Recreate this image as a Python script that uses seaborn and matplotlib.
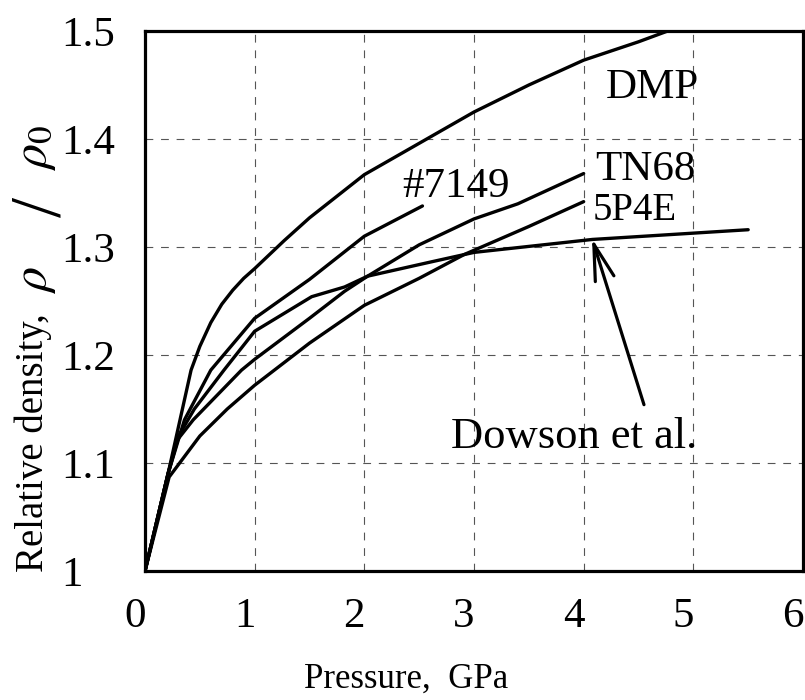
import matplotlib
matplotlib.use("Agg")
import matplotlib.pyplot as plt
import pandas as pd
import seaborn as sns
from matplotlib.patches import FancyArrowPatch
from matplotlib.transforms import ScaledTranslation

# ---- data ----
dmp_p = [0.0, 0.21, 0.42, 0.50, 0.60, 0.70, 0.80, 0.90, 1.0, 1.27, 1.5, 2.0, 2.5, 3.0, 3.5, 4.0, 4.5, 4.82]
dmp_r = [1.0, 1.09, 1.186, 1.208, 1.230, 1.247, 1.260, 1.271, 1.280, 1.306, 1.327, 1.367, 1.396, 1.425, 1.450, 1.473, 1.490, 1.502]

s7149_p = [0.0, 0.21, 0.36, 0.60, 1.0, 1.5, 2.0, 2.53]
s7149_r = [1.0, 1.09, 1.14, 1.186, 1.234, 1.270, 1.310, 1.338]

tn68_p = [0.0, 0.21, 0.30, 0.44, 0.88, 1.0, 1.5, 1.82, 2.03, 2.5, 3.0, 3.4, 4.0]
tn68_r = [1.0, 1.09, 1.122, 1.14, 1.186, 1.196, 1.234, 1.259, 1.273, 1.302, 1.326, 1.340, 1.368]

dowson_p = [0.0, 0.21, 0.30, 0.45, 0.72, 1.0, 1.52, 1.82, 2.03, 2.6, 3.0, 4.08, 5.5]
dowson_r = [1.0, 1.09, 1.124, 1.150, 1.186, 1.222, 1.254, 1.263, 1.273, 1.286, 1.295, 1.307, 1.316]

p5p4e_p = [0.0, 0.22, 0.5, 0.75, 1.0, 1.5, 2.0, 2.5, 2.91, 3.5, 4.0]
p5p4e_r = [1.0, 1.087, 1.125, 1.150, 1.172, 1.211, 1.246, 1.271, 1.293, 1.319, 1.342]

series_names = ["DMP", "#7149", "TN68", "Dowson et al.", "5P4E"]
x_ticks = [0, 1, 2, 3, 4, 5, 6]
x_ticklabels = ["0", "1", "2", "3", "4", "5", "6"]
y_ticks = [1.0, 1.1, 1.2, 1.3, 1.4, 1.5]
y_ticklabels = ["1", "1.1", "1.2", "1.3", "1.4", "1.5"]

frames = []
for name, p, r in zip(series_names,
                      [dmp_p, s7149_p, tn68_p, dowson_p, p5p4e_p],
                      [dmp_r, s7149_r, tn68_r, dowson_r, p5p4e_r]):
    frames.append(pd.DataFrame({"p": p, "r": r, "fluid": name}))
df = pd.concat(frames, ignore_index=True)

sns.set_theme(style="white")
plt.rcParams["font.family"] = ["Liberation Serif", "DejaVu Serif"]
plt.rcParams["mathtext.fontset"] = "stix"
plt.rcParams["text.color"] = "black"

fig = plt.figure(figsize=(8.05, 7.0), dpi=100)
ax = fig.add_axes([145 / 805, 129 / 700, 658 / 805, 540 / 700])

sns.lineplot(data=df, x="p", y="r", hue="fluid", estimator=None, sort=False,
             palette={n: "black" for n in series_names}, linewidth=2.4,
             legend=False, ax=ax)
for ln in ax.get_lines():
    ln.set_solid_joinstyle("round")

ax.set_xlim(0, 6)
ax.set_ylim(1.0, 1.5)
ax.set_xticks(x_ticks)
ax.set_xticklabels(x_ticklabels)
ax.set_yticks(y_ticks)
ax.set_yticklabels(y_ticklabels)
ax.set_xlabel("")
ax.set_ylabel("")

ax.grid(True, linestyle=(0, (7, 7)), color="#555555", linewidth=0.8)
for sp in ax.spines.values():
    sp.set_color("black")
    sp.set_linewidth(2.3)

ax.tick_params(axis="both", length=0, labelsize=31, colors="black")
ax.tick_params(axis="x", pad=19)
ax.tick_params(axis="y", pad=60)
for lab in ax.get_yticklabels():
    lab.set_horizontalalignment("left")
shift = ScaledTranslation(-0.10, 0, fig.dpi_scale_trans)
for lab in ax.get_xticklabels():
    lab.set_transform(lab.get_transform() + shift)

# curve labels
ax.text(4.197, 1.438, "DMP", fontsize=31, ha="left", va="baseline", color="black")
ax.text(2.348, 1.3463, "#7149", fontsize=31, ha="left", va="baseline", color="black")
ax.text(4.106, 1.362, "TN68", fontsize=31, ha="left", va="baseline", color="black")
ax.text(4.082, 1.325, "5P4E", fontsize=28, ha="left", va="baseline", color="black")
ax.text(2.788, 1.1136, "Dowson et al.", fontsize=32, ha="left", va="baseline", color="black")

arrow = FancyArrowPatch(posA=(4.55, 1.154), posB=(4.076, 1.308),
                        arrowstyle="->,head_length=26,head_width=7",
                        mutation_scale=1, lw=2.3, color="black",
                        shrinkA=0, shrinkB=0)
ax.add_patch(arrow)

# axis labels
fig.text(406 / 805, 1 - 688 / 700, "Pressure,  GPa", fontsize=25,
         ha="center", va="baseline")
fig.text(33 / 805, 1 - 572 / 700, "Relative density,", rotation=90,
         fontsize=28, ha="center", va="bottom")
fig.text(35 / 805, 1 - 280 / 700, r"$\rho$", rotation=90, fontsize=36,
         ha="center", va="center")
fig.text(42 / 805, 1 - 207 / 700, "/", rotation=90, fontsize=52,
         ha="center", va="center")
fig.text(35 / 805, 1 - 148 / 700, r"$\rho_{0}$", rotation=90, fontsize=36,
         ha="center", va="center")

fig.savefig("out.png", dpi=100)
